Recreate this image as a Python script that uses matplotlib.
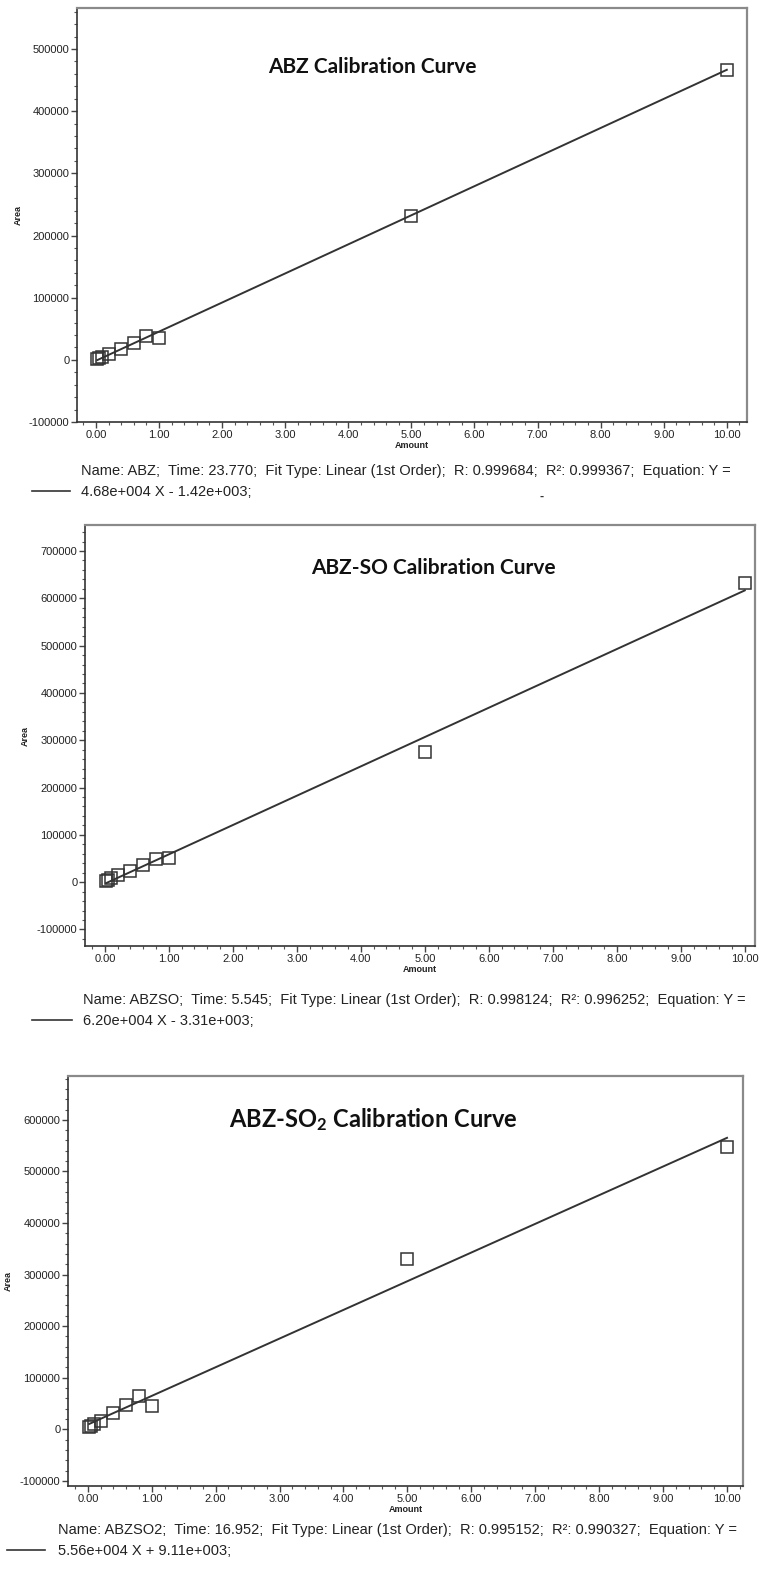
import matplotlib
matplotlib.use("Agg")
import matplotlib.pyplot as plt
from matplotlib.lines import Line2D
from matplotlib.ticker import MultipleLocator, FormatStrFormatter
import numpy as np

plt.rcParams['font.family'] = ['Liberation Sans', 'DejaVu Sans']
plt.rcParams['mathtext.default'] = 'regular'

# figure size in pixels
W, H = 762, 1572

amount_abz = [0.02, 0.05, 0.1, 0.2, 0.4, 0.6, 0.8, 1.0, 5.0, 10.0]
area_abz = [1000, 3000, 5000, 9000, 17000, 27000, 38000, 35000, 232000, 466000]

amount_abzso = [0.02, 0.05, 0.1, 0.2, 0.4, 0.6, 0.8, 1.0, 5.0, 10.0]
area_abzso = [2000, 5000, 8000, 15000, 23000, 36000, 49000, 50000, 276000, 633000]

amount_abzso2 = [0.02, 0.05, 0.1, 0.2, 0.4, 0.6, 0.8, 1.0, 5.0, 10.0]
area_abzso2 = [5000, 7000, 10000, 17000, 31000, 47000, 64000, 46000, 330000, 548000]

# fit coefficients from the legend text
slopes = [4.68e4, 6.20e4, 5.56e4]
intercepts = [-1.42e3, -3.31e3, 9.11e3]

titles = ['ABZ Calibration Curve', 'ABZ-SO Calibration Curve',
          'ABZ-SO$_2$ Calibration Curve']
legend_line1 = [
    'Name: ABZ;  Time: 23.770;  Fit Type: Linear (1st Order);  R: 0.999684;  R\u00b2: 0.999367;  Equation: Y =',
    'Name: ABZSO;  Time: 5.545;  Fit Type: Linear (1st Order);  R: 0.998124;  R\u00b2: 0.996252;  Equation: Y =',
    'Name: ABZSO2;  Time: 16.952;  Fit Type: Linear (1st Order);  R: 0.995152;  R\u00b2: 0.990327;  Equation: Y =',
]
legend_line2 = ['4.68e+004 X - 1.42e+003;', '6.20e+004 X - 3.31e+003;',
                '5.56e+004 X + 9.11e+003;']

# panel layout: axes box (left, top, right, bottom) in pixels and limits
boxes = [(77, 8, 747, 422), (85, 525, 755, 946), (68, 1076, 743, 1486)]
xlims = [(-0.30, 10.32), (-0.31, 10.16), (-0.31, 10.25)]
ylims = [(-100000, 566000), (-135000, 755000), (-110000, 685000)]
title_pos = [(372, 67, 15), (433, 568, 15), (373, 1120, 17)]
ylabel_x = [23, 30, 13]
legend_y = [471, 1000, 1530]
legend_tx = [81, 83, 58]
legend_seg = [(32, 70), (32, 72), (7, 45)]

amounts = [amount_abz, amount_abzso, amount_abzso2]
areas = [area_abz, area_abzso, area_abzso2]

fig = plt.figure(figsize=(W / 100, H / 100), dpi=100)
fig.patch.set_facecolor('white')


def fx(px):
    return px / W


def fy(py):
    return 1 - py / H


for i in range(3):
    l, t, r, b = boxes[i]
    ax = fig.add_axes([fx(l), fy(b), (r - l) / W, (b - t) / H])
    x = np.array(amounts[i])
    y = np.array(areas[i])

    # fitted line over the standards range
    xf = np.array([x.min(), x.max()])
    ax.plot(xf, slopes[i] * xf + intercepts[i], color='#333333', lw=1.4,
            zorder=2)
    ax.plot(x, y, linestyle='none', marker='s', markersize=8,
            markerfacecolor='none', markeredgecolor='#333333',
            markeredgewidth=1.1, zorder=3)

    ax.set_xlim(*xlims[i])
    ax.set_ylim(*ylims[i])
    ax.xaxis.set_major_locator(MultipleLocator(1))
    ax.xaxis.set_minor_locator(MultipleLocator(0.2))
    ax.xaxis.set_major_formatter(FormatStrFormatter('%.2f'))
    ax.yaxis.set_major_locator(MultipleLocator(100000))
    ax.yaxis.set_minor_locator(MultipleLocator(20000))
    ax.yaxis.set_major_formatter(FormatStrFormatter('%d'))
    ax.tick_params(which='major', direction='out', length=4, width=1,
                   color='#444444', labelsize=8, labelcolor='#222222',
                   pad=1.5)
    ax.tick_params(which='minor', direction='out', length=2.5, width=0.8,
                   color='#555555')
    for lab in ax.get_xticklabels() + ax.get_yticklabels():
        lab.set_family(['Liberation Sans Narrow', 'Liberation Sans'])

    for side in ['left', 'bottom']:
        ax.spines[side].set_color('#333333')
        ax.spines[side].set_linewidth(1.2)
    for side in ['top', 'right']:
        ax.spines[side].set_color('#8a8a8a')
        ax.spines[side].set_linewidth(1.6)

    ax.set_xlabel('Amount', fontsize=6.5, color='#222222', labelpad=1,
                  fontweight='bold')
    ax.set_ylabel('Area', fontsize=6.5, color='#222222', fontweight='bold')
    ax.yaxis.set_label_coords((ylabel_x[i] - l) / (r - l), 0.5)

    tx, ty, tsize = title_pos[i]
    fig.text(fx(tx), fy(ty), titles[i], ha='center', va='center',
             fontsize=tsize, fontweight='bold', family='Lato',
             color='#111111')

    # legend entry below the plot
    s0, s1 = legend_seg[i]
    seg_y = legend_y[i] + 20
    fig.add_artist(Line2D([fx(s0), fx(s1)], [fy(seg_y), fy(seg_y)],
                          color='#333333', lw=1.2))
    fig.text(fx(legend_tx[i]), fy(legend_y[i]), legend_line1[i],
             ha='left', va='center', fontsize=10.5, color='#222222')
    fig.text(fx(legend_tx[i]), fy(legend_y[i] + 21), legend_line2[i],
             ha='left', va='center', fontsize=10.5, color='#222222')

# stray mark under the first legend
fig.text(fx(542), fy(497), '-', ha='center', va='center', fontsize=9,
         fontweight='bold', color='#333333')

fig.savefig('out.png', dpi=100, facecolor='white')
